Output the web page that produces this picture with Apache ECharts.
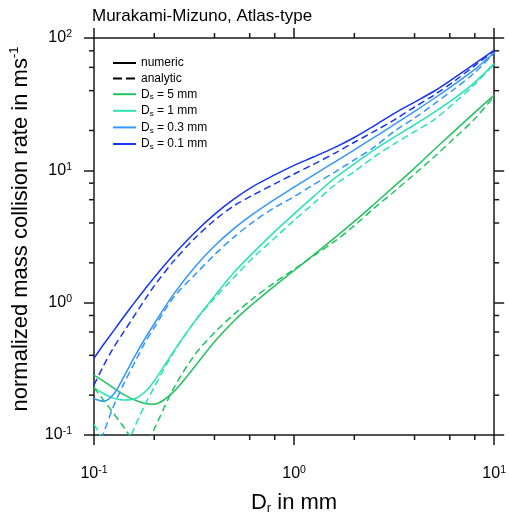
<!DOCTYPE html>
<html><head><meta charset="utf-8">
<script src="https://cdn.jsdelivr.net/npm/echarts@6/dist/echarts.min.js"></script>
<style>html,body{margin:0;padding:0;background:#fff}#c{width:509px;height:520px}</style>
</head><body><div id="c"></div>
<script>
const titleText = 'Murakami-Mizuno, Atlas-type';
const xName = ['D', 'r', ' in mm'];
const yName = ['normalized mass collision rate in ms', '-1'];
const legendNames = ['numeric', 'analytic', 'Ds = 5 mm', 'Ds = 1 mm', 'Ds = 0.3 mm', 'Ds = 0.1 mm'];

const xTickValues = [0.1, 1, 10];
const xTickExps = ['-1', '0', '1'];
const yTickValues = [0.1, 1, 10, 100];
const yTickExps = ['-1', '0', '1', '2'];
const xMinorTicks = [0.2, 0.4, 0.6, 0.8, 2, 4, 6, 8];
const yMinorTicks = [0.2, 0.4, 0.6, 0.8, 2, 4, 6, 8, 20, 40, 60, 80];

const xGrid   = [0.1,0.112,0.125,0.14,0.16,0.18,0.2,0.25,0.32,0.4,0.5,0.63,0.8,1,1.25,1.6,2,2.5,3.2,4,5,6.3,8,10];
const num5mm  = [0.284,0.254,0.227,0.203,0.184,0.173,0.171,0.212,0.331,0.506,0.728,0.995,1.34,1.75,2.29,3.10,4.11,5.52,7.69,10.4,14.3,19.7,27.4,37.0];
const ana5mm  = [0.227,0.182,0.146,0.116,0.088,0.08,0.111,0.225,0.407,0.594,0.815,1.09,1.42,1.79,2.26,2.92,3.82,5.15,7.01,9.38,12.6,17.4,24.5,36.4];
const num1mm  = [0.227,0.205,0.190,0.184,0.188,0.212,0.256,0.429,0.729,1.12,1.69,2.42,3.44,4.69,6.33,8.76,11.2,14.2,18.0,22.1,27.4,34.8,46.2,64.0];
const ana1mm  = [0.12,0.088,0.05,0.0714,0.116,0.17,0.23,0.421,0.726,1.08,1.55,2.22,3.08,4.19,5.61,7.78,9.8,12.6,16.0,19.6,24.1,32.3,44.7,64.0];
const num03mm = [0.188,0.180,0.202,0.27,0.394,0.536,0.693,1.16,1.87,2.68,3.63,4.73,6.04,7.46,9.2,11.6,14.3,17.7,22.4,27.9,34.9,44.5,58.0,77.3];
const ana03mm = [0.065,0.105,0.164,0.239,0.355,0.500,0.647,1.10,1.63,2.30,3.13,4.12,5.24,6.33,7.78,9.71,12.0,14.9,19.95,24.9,31.7,41.0,54.8,77.3];
const num01mm = [0.380,0.487,0.610,0.772,1.01,1.27,1.55,2.30,3.41,4.65,6.06,7.64,9.23,10.9,12.6,14.9,17.7,21.6,27.2,32.8,39.6,49.9,64.0,81.0];
const ana01mm = [0.239,0.337,0.455,0.593,0.808,1.06,1.34,2.06,3.08,4.19,5.39,6.55,7.91,9.38,11.1,13.5,16.3,19.6,24.3,30.1,37.0,47.0,61.9,80.0];

const colors = {'5': '#21c25f', '1': '#2ae3b5', '0.3': '#3396ff', '0.1': '#1634f6'};
const AX = '#1a1a1a';
const FONT = '"Liberation Sans", Arial, Helvetica, sans-serif';

function pairs(ys) { return xGrid.map((x, i) => [x, ys[i]]); }
function expLabel(vals, exps, v) {
  for (let i = 0; i < vals.length; i++) {
    if (Math.abs(Math.log10(v) - Math.log10(vals[i])) < 1e-6) return '{b|10}{e|' + exps[i] + '}';
  }
  return '';
}
const tickRich = {
  b: {fontSize: 16, lineHeight: 18, fontFamily: FONT, color: '#000'},
  e: {fontSize: 10.5, lineHeight: 12, verticalAlign: 'top', fontFamily: FONT, color: '#000'}
};

function lineSeries(name, ys, color, dashed) {
  return {
    type: 'line', name: name, data: pairs(ys), xAxisIndex: 0, yAxisIndex: 0,
    symbol: 'none', smooth: 0.3, clip: true,
    lineStyle: {color: color, width: 1.5, type: dashed ? [7, 4] : 'solid'},
    itemStyle: {color: color}, z: 3
  };
}

const series = [
  {type: 'line', name: legendNames[0], data: [], symbol: 'none', lineStyle: {color: '#000', width: 1.5}, itemStyle: {color: '#000'}},
  {type: 'line', name: legendNames[1], data: [], symbol: 'none', lineStyle: {color: '#000', width: 1.5, type: [9, 4]}, itemStyle: {color: '#000'}},
  lineSeries(legendNames[2], num5mm, colors['5'], false),
  lineSeries(legendNames[3], num1mm, colors['1'], false),
  lineSeries(legendNames[4], num03mm, colors['0.3'], false),
  lineSeries(legendNames[5], num01mm, colors['0.1'], false),
  lineSeries('5 mm analytic', ana5mm, colors['5'], true),
  lineSeries('1 mm analytic', ana1mm, colors['1'], true),
  lineSeries('0.3 mm analytic', ana03mm, colors['0.3'], true),
  lineSeries('0.1 mm analytic', ana01mm, colors['0.1'], true)
];

function makeX(pos, main) {
  return {
    type: 'log', logBase: 10, min: 0.1, max: 10, position: pos,
    axisLine: {show: true, onZero: false, lineStyle: {color: AX, width: 1.5}},
    axisTick: {show: true, inside: false, length: 10, lineStyle: {color: AX, width: 1.5}},
    splitLine: {show: false}, minorTick: {show: false},
    axisLabel: main ? {show: true, margin: 30, formatter: v => expLabel(xTickValues, xTickExps, v), rich: tickRich} : {show: false},
    name: main ? '{n|' + xName[0] + '}{s|' + xName[1] + '}{n|' + xName[2] + '}' : '',
    nameLocation: 'middle', nameGap: 55,
    nameTextStyle: {rich: {
      n: {fontSize: 22, lineHeight: 25, fontFamily: FONT, color: '#000'},
      s: {fontSize: 13, lineHeight: 15, verticalAlign: 'bottom', fontFamily: FONT, color: '#000'}
    }}
  };
}
function makeY(pos, main) {
  return {
    type: 'log', logBase: 10, min: 0.1, max: 100, position: pos,
    axisLine: {show: true, onZero: false, lineStyle: {color: AX, width: 1.5}},
    axisTick: {show: true, inside: false, length: 10, lineStyle: {color: AX, width: 1.5}},
    splitLine: {show: false}, minorTick: {show: false},
    axisLabel: main ? {show: true, margin: 22, formatter: v => expLabel(yTickValues, yTickExps, v), rich: tickRich} : {show: false},
    name: main ? '{n|' + yName[0] + '}{e|' + yName[1] + '}' : '',
    nameLocation: 'middle', nameGap: 61,
    nameTextStyle: {padding: [0, 0, 0, 15], rich: {
      n: {fontSize: 22, lineHeight: 25, fontFamily: FONT, color: '#000'},
      e: {fontSize: 13, lineHeight: 14, verticalAlign: 'top', fontFamily: FONT, color: '#000'}
    }}
  };
}

const chart = echarts.init(document.getElementById('c'), null, {renderer: 'canvas'});
chart.setOption({
  animation: false,
  backgroundColor: '#fff',
  title: {text: titleText, left: 92, top: 8, padding: 0, textStyle: {fontSize: 17, fontWeight: 'normal', color: '#000', fontFamily: FONT}},
  grid: {left: 94, top: 38, width: 404, height: 403, containLabel: false},
  legend: {
    data: legendNames, orient: 'vertical', left: 112, top: 57, padding: 0,
    itemWidth: 23, itemHeight: 12, itemGap: 3.6, selectedMode: false,
    itemStyle: {color: 'rgba(0,0,0,0)', borderColor: 'rgba(0,0,0,0)', borderWidth: 0, opacity: 0},
    formatter: function (name) {
      if (name.indexOf('Ds') === 0) return '{n|D}{s|s}{n|' + name.slice(2) + '}';
      return '{n|' + name + '}';
    },
    textStyle: {fontFamily: FONT, fontSize: 12, color: '#000', rich: {
      n: {fontSize: 12, lineHeight: 14, fontFamily: FONT, color: '#000'},
      s: {fontSize: 8, lineHeight: 9, verticalAlign: 'bottom', fontFamily: FONT, color: '#000'}
    }}
  },
  xAxis: [makeX('bottom', true), makeX('top', false)],
  yAxis: [makeY('left', true), makeY('right', false)],
  series: series
});

// minor ticks (at 2,4,6,8 of each decade) placed through the axis scales
const xl = chart.convertToPixel({xAxisIndex: 0}, 0.1), xr = chart.convertToPixel({xAxisIndex: 0}, 10);
const yb = chart.convertToPixel({yAxisIndex: 0}, 0.1), yt = chart.convertToPixel({yAxisIndex: 0}, 100);
const g = [];
const st = {stroke: AX, lineWidth: 1.5};
xMinorTicks.forEach(v => {
  const p = chart.convertToPixel({xAxisIndex: 0}, v);
  g.push({type: 'line', shape: {x1: p, y1: yb, x2: p, y2: yb + 5}, style: st, silent: true});
  g.push({type: 'line', shape: {x1: p, y1: yt, x2: p, y2: yt - 5}, style: st, silent: true});
});
yMinorTicks.forEach(v => {
  const p = chart.convertToPixel({yAxisIndex: 0}, v);
  g.push({type: 'line', shape: {x1: xl, y1: p, x2: xl - 5, y2: p}, style: st, silent: true});
  g.push({type: 'line', shape: {x1: xr, y1: p, x2: xr + 5, y2: p}, style: st, silent: true});
});
chart.setOption({graphic: g});
</script></body></html>
